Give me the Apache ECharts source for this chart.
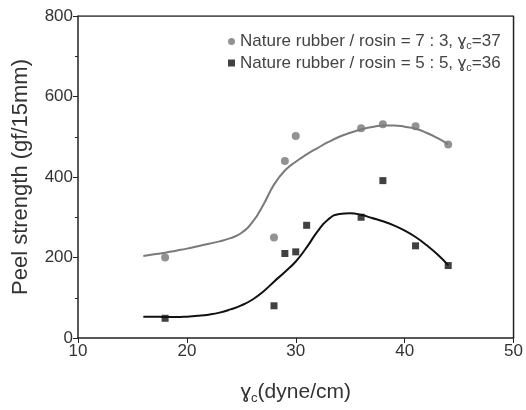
<!DOCTYPE html>
<html>
<head>
<meta charset="utf-8">
<script src="https://cdn.jsdelivr.net/npm/echarts@6/dist/echarts.min.js"></script>
<style>
  html, body { margin: 0; padding: 0; background: #fff; }
  #chart { width: 526px; height: 410px; }
</style>
</head>
<body>
<div id="chart"></div>
<script>
// measured points, ratio 7:3 (circles)
var x73 = [18, 28, 29, 30, 36, 38, 41, 44];
var y73 = [200, 250, 440, 502, 521, 531, 526, 481];
// measured points, ratio 5:5 (squares)
var x55 = [18, 28, 29, 30, 31, 36, 38, 41, 44];
var y55 = [49, 80, 210, 214, 280, 300, 391, 229, 180];

// fitted curves at x = 16, 17, ... 44
var fitX = [16, 17, 18, 19, 20, 21, 22, 23, 24, 25, 26, 27, 28, 29, 30,
            31, 32, 33, 34, 35, 36, 37, 38, 39, 40, 41, 42, 43, 44];
var fitY73 = [204, 208, 212, 217, 222, 228, 234, 240, 248, 261, 287, 330, 381, 416, 438,
              456, 472, 487, 500, 510, 518, 524, 528, 528, 525, 520, 510, 497, 481];
var fitY55 = [53, 53, 52, 52, 53, 55, 58, 63, 71, 81, 95, 115, 140, 164, 190,
              225, 265, 295, 308, 310, 306, 298, 290, 280, 267, 251, 231, 208, 181];

var name73 = 'Nature rubber / rosin = 7 : 3, ';
var name55 = 'Nature rubber / rosin = 5 : 5, ';
var gamma73 = '37';
var gamma55 = '36';

function pairs(xs, ys) {
  return xs.map(function (x, i) { return [x, ys[i]]; });
}

var chart = echarts.init(document.getElementById('chart'));

var font = 'Arial, Liberation Sans';

var option = {
  animation: false,
  grid: { left: 78, right: 10, top: 16, bottom: 72 },
  legend: {
    top: 28,
    left: 223,
    orient: 'vertical',
    itemWidth: 7,
    itemHeight: 7,
    itemGap: 3,
    data: [
      { name: name73, icon: 'circle' },
      { name: name55, icon: 'rect' }
    ],
    formatter: function (n) {
      var g = n === name73 ? gamma73 : gamma55;
      return '{t|' + n + 'ɣ}{s|c}{t|=' + g + '}';
    },
    textStyle: {
      rich: {
        t: { fontFamily: font, fontSize: 17, color: '#444', height: 19 },
        s: { fontFamily: font, fontSize: 11, color: '#444', padding: [9, 0, 0, 0] }
      }
    }
  },
  xAxis: {
    type: 'value',
    min: 10, max: 50, interval: 10,
    name: '{g|ɣ}{s|c}{g|(dyne/cm)}',
    nameLocation: 'middle',
    nameGap: 42,
    nameTextStyle: {
      rich: {
        g: { fontFamily: font, fontSize: 21, color: '#333' },
        s: { fontFamily: font, fontSize: 13, color: '#333', padding: [12, 0, 0, 0] }
      }
    },
    axisLine: { onZero: false, lineStyle: { color: '#222', width: 1.5 } },
    axisTick: { inside: false, length: 5, lineStyle: { color: '#222' } },
    axisLabel: { fontFamily: font, fontSize: 17, color: '#333', margin: 5 },
    splitLine: { show: false }
  },
  yAxis: {
    type: 'value',
    min: 0, max: 800, interval: 200,
    name: 'Peel strength (gf/15mm)',
    nameLocation: 'middle',
    nameGap: 46,
    nameTextStyle: { fontFamily: font, fontSize: 22, color: '#333' },
    axisLine: { show: true, lineStyle: { color: '#222', width: 1.5 } },
    axisTick: { inside: false, length: 5, lineStyle: { color: '#222' } },
    minorTick: { show: true, splitNumber: 2, length: 3, lineStyle: { color: '#222' } },
    axisLabel: { fontFamily: font, fontSize: 17, color: '#333', margin: 5 },
    splitLine: { show: false }
  },
  series: [
    {
      // top and right frame lines
      type: 'line', silent: true, symbol: 'none',
      data: [[10, 800], [50, 800], [50, 0]],
      lineStyle: { color: '#222', width: 1.5 }
    },
    {
      name: 'fit73', type: 'line', smooth: 0.5, symbol: 'none',
      data: pairs(fitX, fitY73),
      lineStyle: { color: '#7a7a7a', width: 2 }
    },
    {
      name: 'fit55', type: 'line', smooth: 0.5, symbol: 'none',
      data: pairs(fitX, fitY55),
      lineStyle: { color: '#111', width: 2 }
    },
    {
      name: name73, type: 'scatter', symbol: 'circle', symbolSize: 8,
      itemStyle: { color: '#777' },
      data: pairs(x73, y73)
    },
    {
      name: name55, type: 'scatter', symbol: 'rect', symbolSize: 7,
      itemStyle: { color: '#111' },
      data: pairs(x55, y55)
    }
  ]
};

chart.setOption(option);
</script>
</body>
</html>
